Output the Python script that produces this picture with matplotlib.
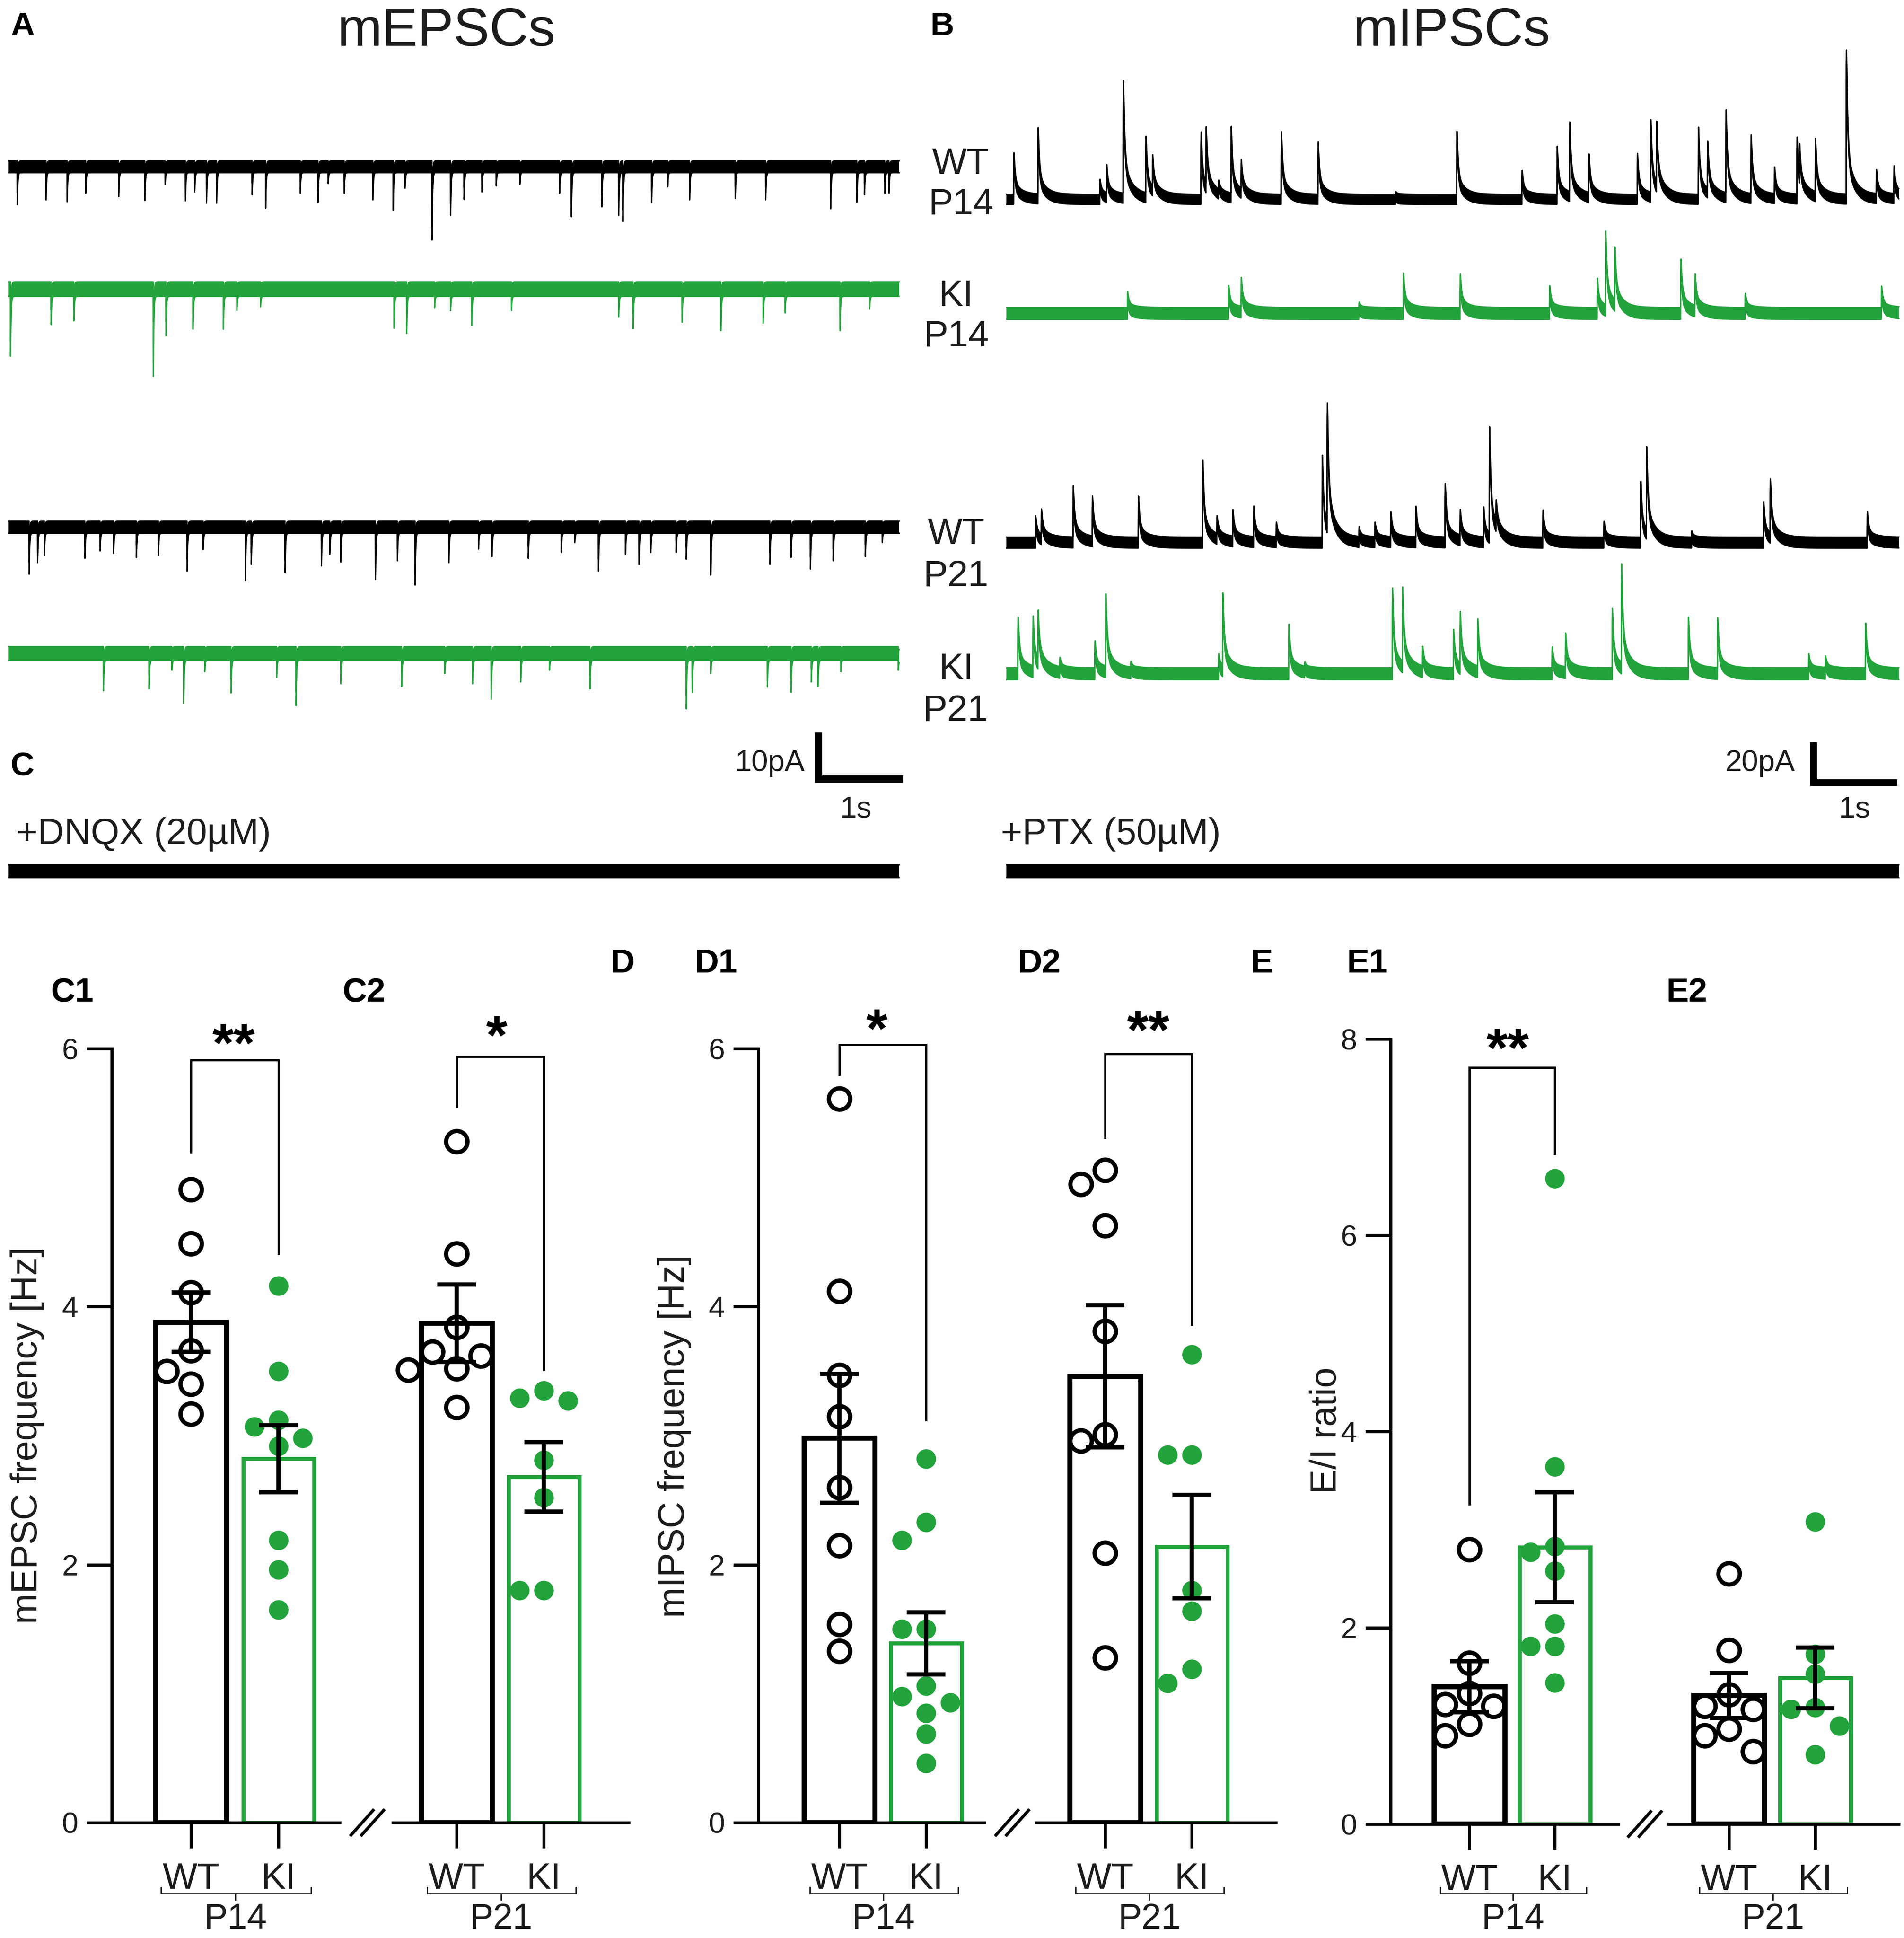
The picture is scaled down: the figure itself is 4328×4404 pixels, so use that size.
import numpy as np
import matplotlib
matplotlib.use("Agg")
import matplotlib.pyplot as plt
from matplotlib.transforms import Affine2D
from matplotlib.lines import Line2D

plt.rcParams["font.family"] = ["Liberation Sans", "DejaVu Sans"]

W, H = 4328, 4404
GREEN = "#22a33b"
INK = "#1c1c1c"

# ---------------- bar chart data ----------------
groups = ["WT", "KI"]

c1_wt = [4.91, 4.49, 4.11, 3.66, 3.50, 3.40, 3.17]
c1_ki = [4.16, 3.50, 3.12, 3.07, 2.98, 2.92, 2.19, 1.96, 1.65]
c1_mean = [3.88, 2.82]
c1_sem = [0.23, 0.26]

c2_wt = [5.28, 4.41, 3.84, 3.65, 3.62, 3.52, 3.51, 3.22]
c2_ki = [3.35, 3.29, 3.27, 2.81, 2.52, 1.80, 1.80]
c2_mean = [3.87, 2.68]
c2_sem = [0.30, 0.27]

d1_wt = [5.61, 4.12, 3.47, 3.15, 2.60, 2.15, 1.54, 1.33]
d1_ki = [2.82, 2.33, 2.19, 1.50, 1.50, 1.06, 0.98, 0.93, 0.85, 0.69, 0.46]
d1_mean = [2.98, 1.39]
d1_sem = [0.50, 0.24]

d2_wt = [5.06, 4.95, 4.63, 3.81, 3.01, 2.96, 2.09, 1.28]
d2_ki = [3.63, 2.85, 2.85, 1.80, 1.64, 1.19, 1.08]
d2_mean = [3.46, 2.14]
d2_sem = [0.55, 0.40]

e1_wt = [2.80, 1.64, 1.33, 1.22, 1.20, 1.02, 0.90]
e1_ki = [6.58, 3.64, 2.83, 2.77, 2.58, 2.04, 1.81, 1.81, 1.44]
e1_mean = [1.40, 2.82]
e1_sem = [0.26, 0.56]

e2_wt = [2.55, 1.77, 1.32, 1.20, 1.17, 0.97, 0.90, 0.74]
e2_ki = [3.08, 1.73, 1.53, 1.19, 1.17, 1.00, 0.71]
e2_mean = [1.31, 1.49]
e2_sem = [0.23, 0.31]

# ---------------- trace events: time [s], peak amplitude [pA] ----------------
# mEPSCs (inward, drawn downwards)
epsc_wt14_t = [0.11, 0.45, 0.70, 0.92, 1.31, 1.62, 1.86, 2.10, 2.21, 2.35, 2.47, 2.89, 3.05,
               3.46, 3.67, 3.79, 3.98, 4.32, 4.56, 4.70, 5.02, 5.24, 5.40, 5.61, 5.78, 6.06,
               6.53, 6.67, 7.03, 7.23, 7.28, 7.62, 7.81, 8.07, 8.61, 8.97, 9.74, 10.05,
               10.14, 10.38, 10.43]
epsc_wt14_a = [8.1, 7.1, 7.5, 5.7, 6.4, 7.2, 3.8, 7.3, 5.4, 7.8, 7.8, 6.0, 8.9,
               5.7, 7.7, 3.6, 5.7, 7.1, 9.3, 4.6, 15.7, 10.4, 7.0, 5.4, 4.1, 3.8,
               5.7, 10.7, 8.6, 10.4, 11.8, 7.7, 4.3, 7.1, 6.8, 7.1, 9.0, 7.6,
               6.0, 5.7, 5.7]
epsc_ki14_t = [0.03, 0.51, 0.78, 1.72, 1.87, 2.19, 2.55, 2.71, 2.99, 4.57, 4.72, 5.05,
               5.24, 5.49, 5.96, 7.23, 7.40, 7.98, 8.44, 8.94, 9.20, 9.85, 10.20]
epsc_ki14_a = [14.4, 7.6, 6.8, 18.7, 10.0, 8.6, 8.6, 4.6, 3.8, 8.4, 9.5, 4.1,
               4.6, 7.8, 4.6, 6.0, 8.5, 7.1, 8.9, 7.3, 5.1, 8.9, 4.3]
epsc_wt21_t = [0.25, 0.35, 0.43, 0.91, 1.09, 1.25, 1.52, 1.78, 2.12, 2.31, 2.81, 2.88,
               3.28, 3.71, 3.81, 3.94, 4.35, 4.61, 4.82, 5.22, 5.57, 5.73, 6.16, 6.55,
               6.71, 6.99, 7.31, 7.47, 7.61, 7.91, 8.03, 8.32, 9.02, 9.27, 9.50, 9.77,
               10.15, 10.35]
epsc_wt21_a = [10.1, 7.6, 6.1, 6.7, 5.1, 5.6, 6.5, 6.1, 9.4, 4.8, 11.5, 8.0,
               9.8, 8.3, 5.8, 7.5, 11.2, 7.2, 12.4, 7.6, 4.7, 6.3, 6.7, 5.4,
               3.3, 9.4, 5.8, 8.0, 5.4, 5.4, 6.9, 10.3, 8.0, 6.5, 9.0, 7.2,
               6.3, 3.3]
epsc_ki21_t = [1.13, 1.67, 1.94, 2.08, 2.33, 2.64, 3.18, 3.41, 3.94, 4.66, 5.17, 5.50,
               5.72, 6.07, 6.41, 6.89, 8.03, 8.10, 8.32, 8.99, 9.27, 9.51, 9.59, 9.86,
               10.54]
epsc_ki21_a = [8.0, 7.6, 3.6, 10.7, 3.9, 8.5, 5.1, 11.2, 6.5, 7.1, 4.3, 6.5,
               9.8, 6.1, 3.6, 7.6, 11.9, 8.3, 4.3, 7.2, 8.3, 6.1, 7.1, 3.9,
               3.6]

# mIPSCs (drawn upwards)
ipsc_wt14_t = [0.09, 0.38, 1.12, 1.20, 1.40, 1.67, 1.75, 2.33, 2.39, 2.54, 2.69, 2.81,
               3.29, 3.73, 4.66, 5.39, 6.17, 6.59, 6.74, 6.97, 7.55, 7.71, 7.78, 8.28,
               8.39, 8.61, 8.91, 9.19, 9.46, 9.49, 9.68, 10.05, 10.41, 10.62]
ipsc_wt14_a = [23.1, 35.2, 9.9, 16.2, 58.0, 30.2, 18.0, 33.3, 30.5, 6.9, 35.3, 16.8,
               33.4, 28.3, 3.8, 33.7, 14.3, 26.2, 36.8, 21.5, 22.7, 38.3, 32.6, 35.6,
               25.8, 43.4, 31.4, 15.6, 30.5, 18.0, 28.7, 73.6, 14.3, 16.2]
ipsc_ki14_t = [1.45, 2.66, 2.81, 4.22, 4.75, 5.43, 6.50, 7.07, 7.17, 7.28, 8.07, 8.24,
               8.84, 10.47]
ipsc_ki14_a = [10.6, 13.7, 17.1, 5.6, 20.0, 19.4, 13.7, 17.4, 39.2, 29.0, 26.8, 18.3,
               9.9, 13.5]
ipsc_wt21_t = [0.35, 0.42, 0.80, 1.03, 1.58, 2.35, 2.52, 2.71, 2.96, 3.23, 3.78, 3.84,
               4.22, 4.41, 4.60, 4.90, 5.25, 5.43, 5.71, 5.78, 5.86, 6.42, 7.15, 7.59,
               7.66, 8.20, 9.06, 9.14, 10.30]
ipsc_wt21_a = [13.3, 15.0, 28.0, 22.4, 23.0, 40.7, 11.6, 15.8, 17.8, 9.9, 43.2, 61.9,
               7.5, 9.9, 15.0, 17.8, 29.1, 15.3, 17.4, 54.9, 13.3, 16.1, 10.5, 30.3,
               43.2, 5.8, 20.3, 29.1, 15.3]
ipsc_ki21_t = [0.14, 0.32, 0.38, 0.64, 1.06, 1.19, 1.49, 2.54, 2.59, 3.38, 3.57, 4.62,
               4.74, 4.98, 5.35, 5.43, 5.64, 6.53, 6.69, 7.25, 7.36, 8.16, 8.51, 9.60,
               9.80, 10.28]
ipsc_ki21_a = [28.0, 27.5, 26.6, 7.5, 16.3, 38.5, 5.8, 9.9, 38.5, 24.5, 5.0, 42.4,
               39.6, 12.5, 21.9, 28.2, 26.1, 13.3, 19.6, 32.5, 51.6, 28.0, 27.5, 9.9,
               8.6, 25.0]

# ---------------- layout (pixels from top-left) ----------------
TR_TOP, TR_BOT = 40, 2080
E_X0, E_PPS, E_PPA, E_DUR = 18, 192, 10.6, 10.55
I_X0, I_PPS, I_PPA, I_DUR = 2287, 190, 4.6, 10.68
LW_PX = 3.0

fig = plt.figure(figsize=(W / 100, H / 100), dpi=100, facecolor="white")
PX = Affine2D().scale(1.0 / W, -1.0 / H).translate(0, 1) + fig.transFigure


def ftext(x, y, s, size, **kw):
    kw.setdefault("color", INK)
    fig.text(x, y, s, transform=PX, fontsize=size, **kw)


def kernel(dt, rise, taus, weights, length):
    tk = np.arange(0, length, dt)
    dec = sum(w * np.exp(-tk / tau) for w, tau in zip(weights, taus))
    k = (1 - np.exp(-tk / rise)) * dec
    return k / k.max()


def trace_axes(x0, pps, ppa, tmax):
    ax = fig.add_axes([x0 / W, 1 - TR_BOT / H, tmax * pps / W, (TR_BOT - TR_TOP) / H])
    ax.set_xlim(0, tmax)
    ax.set_ylim(0, (TR_BOT - TR_TOP) / ppa)
    ax.axis("off")
    return ax


def draw_trace(ax, times, amps, row, ppa, dur, dt, k, sign, band_px, color):
    t = np.arange(0, dur, dt)
    half = (band_px - LW_PX) / 2 / ppa
    y = np.zeros_like(t)
    for t0, a in zip(times, amps):
        i = int(round(t0 / dt))
        seg = k[:len(t) - i]
        # amplitude is read to the tip of the ink, so remove the half band
        y[i:i + len(seg)] += max(a - half, 0.0) * seg
    yy = (TR_BOT - row) / ppa + sign * y
    ax.fill_between(t, yy - half, yy + half, color=color, lw=0)
    lw = LW_PX * 0.72
    ax.plot(t, yy - half, color=color, lw=lw)
    ax.plot(t, yy + half, color=color, lw=lw)


def scale_bar(ax, x0, pps, ppa, cx, cy, pa, lw):
    tc = (cx - x0) / pps
    yc = (TR_BOT - cy) / ppa
    ax.plot([tc, tc, tc + 1], [yc + pa, yc, yc], color="black", lw=lw,
            solid_joinstyle="miter", solid_capstyle="butt")


# ---- A / C traces: mEPSCs ----
axE = trace_axes(E_X0, E_PPS, E_PPA, 10.7)
kE = kernel(0.00025, 0.0005, [0.006], [1.0], 0.06)
draw_trace(axE, epsc_wt14_t, epsc_wt14_a, 379, E_PPA, E_DUR, 0.00025, kE, -1, 30, "black")
draw_trace(axE, epsc_ki14_t, epsc_ki14_a, 657, E_PPA, E_DUR, 0.00025, kE, -1, 36, GREEN)
draw_trace(axE, epsc_wt21_t, epsc_wt21_a, 1198, E_PPA, E_DUR, 0.00025, kE, -1, 30, "black")
draw_trace(axE, epsc_ki21_t, epsc_ki21_a, 1485, E_PPA, E_DUR, 0.00025, kE, -1, 34, GREEN)
draw_trace(axE, [], [], 1980, E_PPA, E_DUR, 0.00025, kE, -1, 32, "black")
scale_bar(axE, E_X0, E_PPS, E_PPA, 1860, 1770, 10, 12)

# ---- B traces: mIPSCs ----
axI = trace_axes(I_X0, I_PPS, I_PPA, 10.72)
kI = kernel(0.0005, 0.0015, [0.015, 0.09], [0.75, 0.25], 0.6)
draw_trace(axI, ipsc_wt14_t, ipsc_wt14_a, 453, I_PPA, I_DUR, 0.0005, kI, 1, 26, "black")
draw_trace(axI, ipsc_ki14_t, ipsc_ki14_a, 712, I_PPA, I_DUR, 0.0005, kI, 1, 30, GREEN)
draw_trace(axI, ipsc_wt21_t, ipsc_wt21_a, 1233, I_PPA, I_DUR, 0.0005, kI, 1, 28, "black")
draw_trace(axI, ipsc_ki21_t, ipsc_ki21_a, 1531, I_PPA, I_DUR, 0.0005, kI, 1, 30, GREEN)
draw_trace(axI, [], [], 1980, I_PPA, I_DUR, 0.0005, kI, 1, 32, "black")
scale_bar(axI, I_X0, I_PPS, I_PPA, 4122, 1778, 20, 11)

# ---- text of the trace panels ----
ftext(24, 80, "A", 54, fontweight="bold", color="black")
ftext(2115, 80, "B", 54, fontweight="bold", color="black")
ftext(24, 1761, "C", 54, fontweight="bold", color="black")
ftext(1015, 104, "mEPSCs", 88, ha="center", va="baseline")
ftext(3300, 104, "mIPSCs", 88, ha="center", va="baseline")
for x, y, s in [(2183, 395, "WT"), (2184, 488, "P14"), (2173, 695, "KI"), (2173, 788, "P14"),
                (2173, 1236, "WT"), (2172, 1332, "P21"), (2174, 1543, "KI"), (2171, 1638, "P21")]:
    ftext(x, y, s, 60, ha="center", va="baseline")
ftext(1830, 1752, "10pA", 49, ha="right", va="baseline")
ftext(1946, 1858, "1s", 49, ha="center", va="baseline")
ftext(4080, 1752, "20pA", 49, ha="right", va="baseline")
ftext(4216, 1858, "1s", 49, ha="center", va="baseline")
ftext(37, 1918, "+DNQX (20\u00b5M)", 60, va="baseline")
ftext(2275, 1918, "+PTX (50\u00b5M)", 60, va="baseline")


# ---------------- bar panels ----------------
STEP = 55


def swarm(vals, ppy, sp, diam):
    vals = np.asarray(vals, float)
    order = np.argsort(-vals, kind="stable")
    placed = []
    off = np.zeros(len(vals))
    for i in order:
        y = vals[i] * ppy
        for k in (0, -1, 1, -2, 2, -3, 3):
            x = k * STEP
            if all((x - a) ** 2 + (y - b) ** 2 >= diam ** 2 for a, b in placed):
                break
        placed.append((x, y))
        off[i] = x / sp
    return off


def bar_panel(x0, x1, cw, ck, ytop, ybot, ymax, wt, ki, mean, sem, age, first,
              sig=None, ylabel=None):
    ax = fig.add_axes([x0 / W, 1 - ybot / H, (x1 - x0) / W, (ybot - ytop) / H])
    ax.set_facecolor("none")
    sp = ck - cw
    ppy = (ybot - ytop) / ymax
    ax.set_xlim((x0 - cw) / sp, (x1 - cw) / sp)
    ax.set_ylim(0, ymax)
    bw = 161 / sp
    ax.bar(0, mean[0], bw, facecolor="none", edgecolor="black", lw=8.3, zorder=2)
    ax.bar(1, mean[1], bw, facecolor="none", edgecolor=GREEN, lw=6.5, zorder=2)
    ax.plot(swarm(wt, ppy, sp, 56), wt, "o", ms=35, mfc="none", mec="black",
            mew=6.9, ls="none", zorder=3, clip_on=False)
    ax.plot(1 + swarm(ki, ppy, sp, 44), ki, "o", ms=32, mfc=GREEN, mec="none",
            ls="none", zorder=3, clip_on=False)
    ax.errorbar([0, 1], mean, yerr=sem, fmt="none", ecolor="black", elinewidth=6.9,
                capsize=32, capthick=6.9, zorder=4)

    for s in ("top", "right"):
        ax.spines[s].set_visible(False)
    ax.spines["bottom"].set_linewidth(5)
    ax.set_xticks([0, 1], groups)
    ax.tick_params(axis="x", length=42, width=5, pad=22, labelsize=60, labelcolor=INK)
    if first:
        ax.spines["left"].set_linewidth(5)
        ax.set_yticks(np.arange(0, ymax + 1, 2))
        ax.tick_params(axis="y", length=41, width=5, pad=14, labelsize=48, labelcolor=INK)
    else:
        ax.spines["left"].set_visible(False)
        ax.tick_params(axis="y", left=False, labelleft=False)

    if ylabel is not None:
        text, lx, ly = ylabel
        lab = ax.set_ylabel(text, fontsize=60, color=INK)
        ax.yaxis.set_label_coords(lx / W, 1 - ly / H, transform=fig.transFigure)
        lab.set_va("center")

    # group bracket and age label under the tick labels
    yb = (ybot - 4303) / ppy
    tk = 14 / ppy
    ax.plot([-0.34, -0.34, 1.37, 1.37], [yb + tk, yb, yb, yb + tk], color=INK, lw=2.2,
            clip_on=False)
    ax.plot([0.51, 0.51], [yb, yb - tk], color=INK, lw=2.2, clip_on=False)
    ax.text(0.51, (ybot - 4383) / ppy, age, ha="center", va="baseline", fontsize=58,
            color=INK, clip_on=False)

    if sig is not None:
        yl, yt, yr, stars, sx, sy = sig
        ax.plot([0, 0, 1, 1], [yl, yt, yt, yr], color="black", lw=3.6, clip_on=False,
                solid_joinstyle="miter")
        ax.text(sx, sy, stars, ha="center", va="baseline", fontsize=90,
                fontweight="bold", color="black", clip_on=False)
    return ax


CD_TOP, CD_BOT = 2383, 4142
E_TOP, E_BOT = 2361, 4145

bar_panel(254, 772, 434, 633, CD_TOP, CD_BOT, 6, c1_wt, c1_ki, c1_mean, c1_sem, "P14", True,
          sig=(5.20, 5.91, 4.41, "**", 0.49, 5.90),
          ylabel=("mEPSC frequency [Hz]", 62, 3262))
bar_panel(893, 1429, 1038, 1236, CD_TOP, CD_BOT, 6, c2_wt, c2_ki, c2_mean, c2_sem, "P21", False,
          sig=(5.55, 5.94, 3.51, "*", 0.46, 5.96))
bar_panel(1724, 2237, 1908, 2105, CD_TOP, CD_BOT, 6, d1_wt, d1_ki, d1_mean, d1_sem, "P14", True,
          sig=(5.80, 6.03, 3.12, "*", 0.43, 6.01),
          ylabel=("mIPSC frequency [Hz]", 1533, 3264))
bar_panel(2356, 2900, 2512, 2709, CD_TOP, CD_BOT, 6, d2_wt, d2_ki, d2_mean, d2_sem, "P21", False,
          sig=(5.31, 5.96, 3.86, "**", 0.50, 6.00))
bar_panel(3161, 3678, 3340, 3534, E_TOP, E_BOT, 8, e1_wt, e1_ki, e1_mean, e1_sem, "P14", True,
          sig=(3.26, 7.71, 6.83, "**", 0.45, 7.72),
          ylabel=("E/I ratio", 3015, 3250))
bar_panel(3793, 4316, 3930, 4126, E_TOP, E_BOT, 8, e2_wt, e2_ki, e2_mean, e2_sem, "P21", False)

# axis-break marks between the P14 and P21 panels
for cx, cy in [(835, 4142), (2301, 4142), (3739, 4145)]:
    for dx in (-12, 12):
        fig.add_artist(Line2D([cx + dx - 25, cx + dx + 25], [cy + 28, cy - 28],
                              transform=PX, color="black", lw=5))

# panel letters of the lower row
for x, y, s in [(116, 2276, "C1"), (779, 2276, "C2"), (1388, 2210, "D"), (1579, 2210, "D1"),
                (2314, 2210, "D2"), (2843, 2210, "E"), (3062, 2210, "E1"), (3788, 2276, "E2")]:
    ftext(x, y, s, 55, fontweight="bold", color="black", va="baseline")

fig.savefig("out.png", dpi=100, facecolor="white")
